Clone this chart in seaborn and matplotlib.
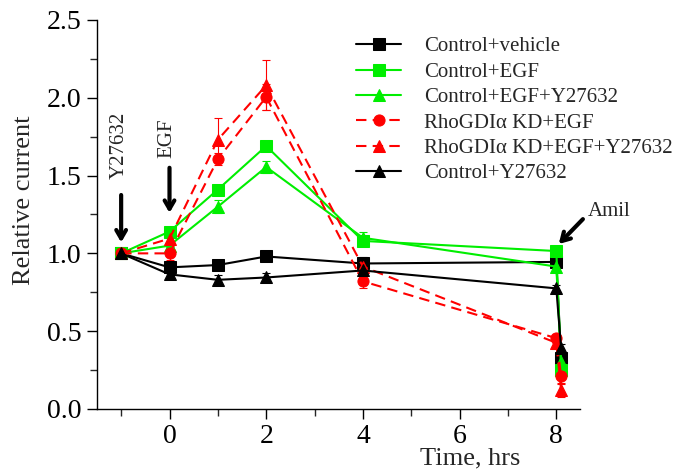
import numpy as np
import pandas as pd
import matplotlib as mpl
mpl.use('Agg')
import matplotlib.pyplot as plt
from matplotlib.ticker import MultipleLocator
import seaborn as sns

# time points (hrs); 8.1 = after amiloride
times = [-1, 0, 1, 2, 4, 8, 8.1]

ctrl_vehicle = [1.0, 0.91, 0.925, 0.98, 0.935, 0.945, 0.33]
ctrl_egf = [1.0, 1.14, 1.41, 1.69, 1.08, 1.015, 0.25]
ctrl_egf_y = [1.0, 1.05, 1.30, 1.555, 1.10, 0.915, 0.30]
kd_egf = [1.0, 1.0, 1.605, 2.005, 0.82, 0.455, 0.21]
kd_egf_y = [1.0, 1.095, 1.73, 2.08, 0.915, 0.425, 0.12]
ctrl_y = [1.0, 0.865, 0.83, 0.845, 0.89, 0.775, 0.39]

err_ctrl_vehicle = [0.0, 0.03, 0.02, 0.02, 0.04, 0.03, 0.03]
err_ctrl_egf = [0.0, 0.03, 0.03, 0.03, 0.03, 0.02, 0.03]
err_ctrl_egf_y = [0.0, 0.05, 0.04, 0.04, 0.04, 0.03, 0.03]
err_kd_egf = [0.0, 0.04, 0.04, 0.085, 0.04, 0.03, 0.04]
err_kd_egf_y = [0.0, 0.05, 0.14, 0.16, 0.04, 0.04, 0.04]
err_ctrl_y = [0.0, 0.03, 0.03, 0.03, 0.03, 0.02, 0.03]

labels = ['Control+vehicle', 'Control+EGF', 'Control+EGF+Y27632',
          'RhoGDI\u03b1 KD+EGF', 'RhoGDI\u03b1 KD+EGF+Y27632', 'Control+Y27632']
values = [ctrl_vehicle, ctrl_egf, ctrl_egf_y, kd_egf, kd_egf_y, ctrl_y]
errors = [err_ctrl_vehicle, err_ctrl_egf, err_ctrl_egf_y, err_kd_egf, err_kd_egf_y, err_ctrl_y]

colors = ['black', '#00ee00', '#00ee00', '#ff0000', '#ff0000', 'black']
markers = ['s', 's', '^', 'o', '^', '^']
styles = ['-', '-', '-', '--', '--', '-']

sns.set_style('ticks')
plt.rcParams['font.family'] = ['Liberation Serif', 'DejaVu Serif']

fig = plt.figure(figsize=(6.81, 4.75), dpi=100)
ax = fig.add_axes([0.1424, 0.139, 0.71, 0.819])

for lab, vals, errs, c, m, ls in zip(labels, values, errors, colors, markers, styles):
    df = pd.DataFrame({'t': times, 'v': vals})
    ax.errorbar(times, vals, yerr=errs, fmt='none', ecolor=c, elinewidth=0.8,
                capsize=3, capthick=0.8, zorder=2)
    sns.lineplot(data=df, x='t', y='v', ax=ax, color=c, marker=m,
                 markersize=8, markeredgecolor=c, linewidth=1.5,
                 label=lab, zorder=3, sort=False)
    ax.lines[-1].set_linestyle(ls)
    if ls == '--':
        ax.lines[-1].set_dashes((5, 3))

ax.set_xlim(-1.5, 8.5)
ax.set_ylim(0, 2.5)
ax.xaxis.set_major_locator(MultipleLocator(2))
ax.xaxis.set_minor_locator(MultipleLocator(1))
ax.yaxis.set_major_locator(MultipleLocator(0.5))
ax.yaxis.set_minor_locator(MultipleLocator(0.25))
ax.yaxis.set_major_formatter(mpl.ticker.FormatStrFormatter('%.1f'))
ax.tick_params(which='major', direction='out', length=7, width=1, labelsize=20,
               colors='black', pad=4)
ax.tick_params(which='minor', direction='out', length=5, width=1)
for s in ['left', 'bottom']:
    ax.spines[s].set_linewidth(1)
    ax.spines[s].set_color('black')
sns.despine(ax=ax)

ax.set_xlabel('Time, hrs', fontsize=19)
ax.xaxis.set_label_coords(0.772, -0.1)
ax.set_ylabel('Relative current', fontsize=19)
ax.yaxis.set_label_coords(-0.128, 0.537)

arrow = dict(arrowstyle='->,head_length=0.6,head_width=0.35', lw=3, color='black',
             shrinkA=0, shrinkB=0)
ax.annotate('', xy=(-1, 1.07), xytext=(-1, 1.375), arrowprops=arrow)
ax.text(-1.03, 1.48, 'Y27632', rotation=90, ha='center', va='bottom', fontsize=15)
ax.annotate('', xy=(0, 1.26), xytext=(0, 1.55), arrowprops=arrow)
ax.text(-0.05, 1.61, 'EGF', rotation=90, ha='center', va='bottom', fontsize=15)
ax.annotate('', xy=(8.05, 1.06), xytext=(8.55, 1.22), arrowprops=arrow,
            annotation_clip=False)
ax.text(9.1, 1.21, 'Amil', ha='center', va='bottom', fontsize=15, clip_on=False)

ax.legend(loc='upper left', bbox_to_anchor=(0.51, 0.94), bbox_transform=fig.transFigure,
          frameon=False, fontsize=15, handlelength=2.2, handletextpad=1.1,
          labelspacing=0.28, borderaxespad=0)

fig.savefig('out.png', dpi=100)
